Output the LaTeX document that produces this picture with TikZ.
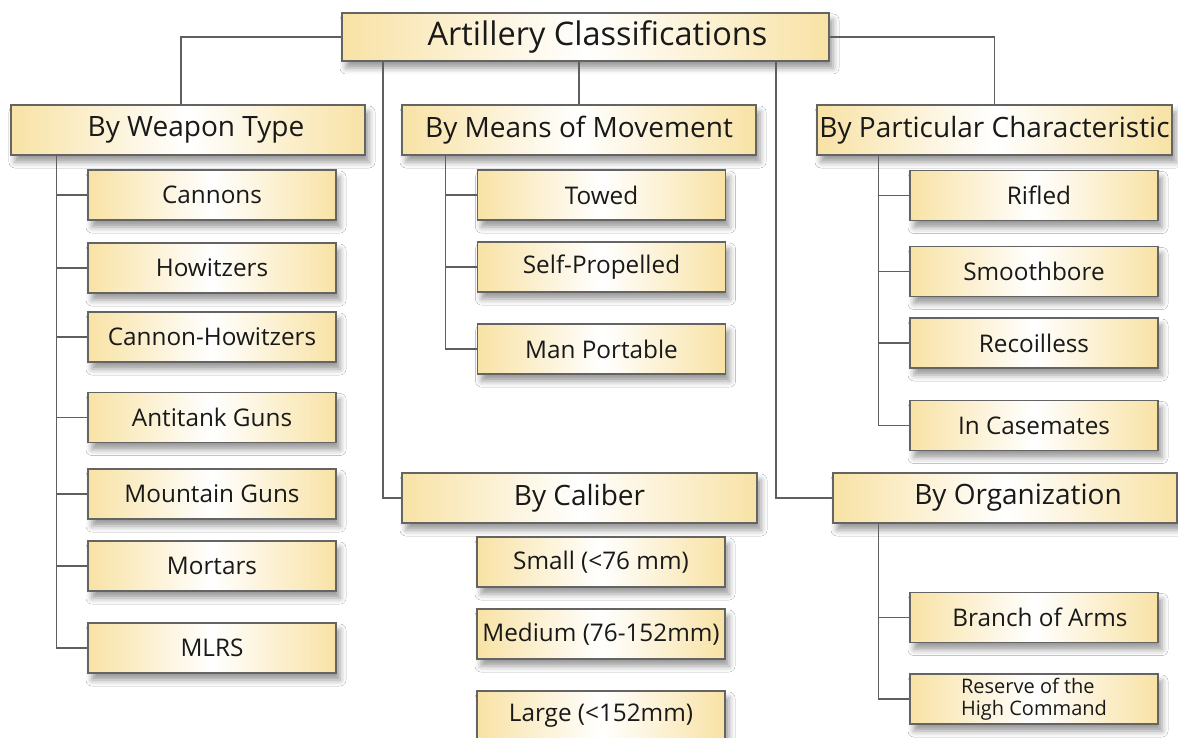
\documentclass[tikz,border=0pt]{standalone}
\usepackage{fontspec}
\setmainfont{Open Sans}
\usetikzlibrary{shadows.blur}
\definecolor{boxy}{RGB}{248,226,165}
\definecolor{edgec}{RGB}{100,100,100}
\definecolor{wirec}{RGB}{95,95,95}
\tikzset{
 box/.style={draw=edgec, line width=1.2pt, left color=boxy, right color=boxy, middle color=white,
   inner sep=0pt, text=black!90,
   blur shadow={shadow xshift=4pt, shadow yshift=-7pt, shadow blur radius=6pt, shadow opacity=40}},
 rootbox/.style={box, minimum width=487pt, minimum height=48pt, font=\fontsize{32.5}{35}\selectfont},
 headbox/.style={box, minimum width=354pt, minimum height=50pt, font=\fontsize{28}{30}\selectfont},
 itembox/.style={box, minimum width=248pt, minimum height=50pt, font=\fontsize{24.3}{26}\selectfont},
 wire/.style={draw=wirec, line width=1.3pt},
}
\begin{document}
\begin{tikzpicture}[x=1pt,y=-1pt]
\fill[white] (0,0) rectangle (1178,738);
\useasboundingbox (0,0) rectangle (1178,738);
% root and headings
\node[rootbox] (root) at (585.5,37) {\hspace*{24pt}Artillery Classifications};
\node[headbox] (wt) at (188,130) {\hspace*{16pt}By Weapon Type};
\node[headbox] (mm) at (579,130) {By Means of Movement};
\node[headbox, minimum width=355pt] (pc) at (994.5,130) {By Particular Characteristic};
\node[headbox, minimum width=355pt] (cal) at (579.5,498) {By Caliber};
\node[headbox, minimum width=344pt] (org) at (1005,498) {\hspace*{26pt}By Organization};
% weapon type
\node[itembox] (w1) at (212,195) {Cannons};
\node[itembox] (w2) at (212,268) {Howitzers};
\node[itembox] (w3) at (212,337) {Cannon-Howitzers};
\node[itembox] (w4) at (212,417.5) {Antitank Guns};
\node[itembox] (w5) at (212,494) {Mountain Guns};
\node[itembox] (w6) at (212,566) {Mortars};
\node[itembox] (w7) at (212,648) {MLRS};
% movement
\node[itembox] (m1) at (601.5,195) {Towed};
\node[itembox] (m2) at (601.5,267) {Self-Propelled};
\node[itembox] (m3) at (601.5,349) {Man Portable};
% particular
\node[itembox] (p1) at (1034,195.5) {\hspace*{10pt}Rifled};
\node[itembox] (p2) at (1034,271.5) {Smoothbore};
\node[itembox] (p3) at (1034,343) {Recoilless};
\node[itembox] (p4) at (1034,425.5) {In Casemates};
% caliber
\node[itembox] (c1) at (601,562) {Small (<76 mm)};
\node[itembox] (c2) at (601,634) {Medium (76-152mm)};
\node[itembox] (c3) at (601,716) {Large (<152mm)};
% organization
\node[itembox] (o1) at (1034,617.5) {\hspace*{12pt}Branch of Arms};
\node[itembox, font=\fontsize{20}{22}\selectfont, align=left] (o2) at (1034,699) {Reserve of the\\High Command};
% connectors from root
\draw[wire] (root.west) -| ([xshift=-7pt]wt.north);
\draw[wire] (root.east) -| (pc.north);
\draw[wire] (mm.north |- root.south) -- (mm.north);
\draw[wire] ([xshift=-202.5pt]root.south) |- (cal.west);
\draw[wire] ([xshift=190.5pt]root.south) |- (org.west);
% branches
\foreach \n in {w1,w2,w3,w4,w5,w6,w7}
  \draw[wire] ([xshift=46pt]wt.south west) |- (\n.west);
\foreach \n in {m1,m2,m3}
  \draw[wire] ([xshift=44pt]mm.south west) |- (\n.west);
\foreach \n in {p1,p2,p3,p4}
  \draw[wire] ([xshift=62pt]pc.south west) |- (\n.west);
\foreach \n in {o1,o2}
  \draw[wire] ([xshift=46pt]org.south west) |- (\n.west);
\end{tikzpicture}
\end{document}
